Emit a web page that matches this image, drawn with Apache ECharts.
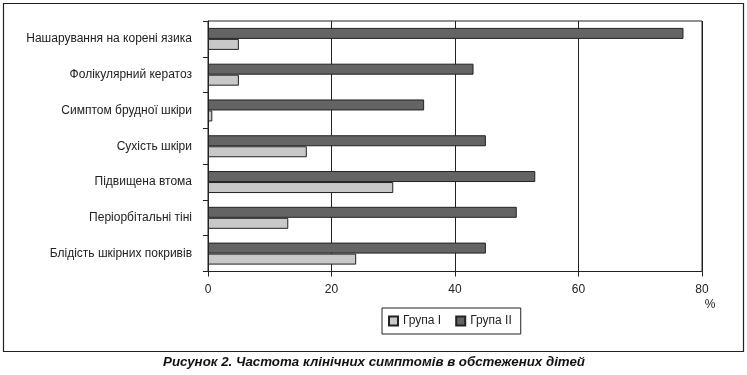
<!DOCTYPE html>
<html>
<head>
<meta charset="utf-8">
<script src="https://cdn.jsdelivr.net/npm/echarts@6/dist/echarts.min.js"></script>
<style>html,body{margin:0;padding:0;background:#fff;}#c{width:747px;height:375px;}</style>
</head>
<body>
<div id="c"></div>
<script>
var categories = ['Нашарування на корені язика','Фолікулярний кератоз','Симптом брудної шкіри','Сухість шкіри','Підвищена втома','Періорбітальні тіні','Блідість шкірних покривів'];
var group1 = [5, 5, 0.7, 16, 30, 13, 24];
var group2 = [77, 43, 35, 45, 53, 50, 45];
var xTicks = [0, 20, 40, 60, 80];
var caption = 'Рисунок 2. Частота клінічних симптомів в обстежених дітей';

var chart = echarts.init(document.getElementById('c'), null, {renderer: 'canvas'});
var font = 'Liberation Sans, Arial, sans-serif';
chart.setOption({
  animation: false,
  backgroundColor: '#fff',
  textStyle: {fontFamily: font},
  grid: {left: 208, right: 45, top: 21, bottom: 103.5, show: true, borderColor: '#222', borderWidth: 1},
  legend: {
    data: ['Група I', 'Група II'],
    left: 382, top: 308,
    itemWidth: 9, itemHeight: 9, itemGap: 14,
    padding: [7, 9, 7, 6],
    borderColor: '#222', borderWidth: 1,
    icon: 'rect',
    textStyle: {fontSize: 12, color: '#222', fontFamily: font}
  },
  xAxis: {
    type: 'value', min: xTicks[0], max: xTicks[xTicks.length-1], interval: 20,
    axisLine: {show: true, lineStyle: {color: '#222'}},
    axisTick: {show: true, length: 5, lineStyle: {color: '#222'}},
    splitLine: {show: true, lineStyle: {color: '#222', width: 1}},
    axisLabel: {fontSize: 12, color: '#222', margin: 12, fontFamily: font}
  },
  yAxis: {
    type: 'category', data: categories, inverse: true,
    axisLine: {show: true, lineStyle: {color: '#222'}},
    axisTick: {show: true, length: 5, lineStyle: {color: '#222'}},
    axisLabel: {fontSize: 12, color: '#222', margin: 16, fontFamily: font}
  },
  series: [
    {name: 'Група II', type: 'bar', data: group2, barWidth: 11, barGap: '0%',
     itemStyle: {color: '#646464', borderColor: '#222', borderWidth: 1}},
    {name: 'Група I', type: 'bar', data: group1, barWidth: 11, barGap: '0%',
     itemStyle: {color: '#c8c8c8', borderColor: '#222', borderWidth: 1}}
  ],
  graphic: [
    {type: 'rect', shape: {x: 3.5, y: 3.5, width: 740, height: 348}, style: {fill: 'none', stroke: '#222', lineWidth: 1.2}, silent: true},
    {type: 'text', x: 710, y: 305, style: {text: '%', fontSize: 12, fill: '#222', font: '12px ' + font, textAlign: 'center', textVerticalAlign: 'middle'}},
    {type: 'text', x: 374, y: 362, style: {text: caption, fill: '#111', font: 'italic bold 13.3px ' + font, textAlign: 'center', textVerticalAlign: 'middle'}}
  ]
});
</script>
</body>
</html>
